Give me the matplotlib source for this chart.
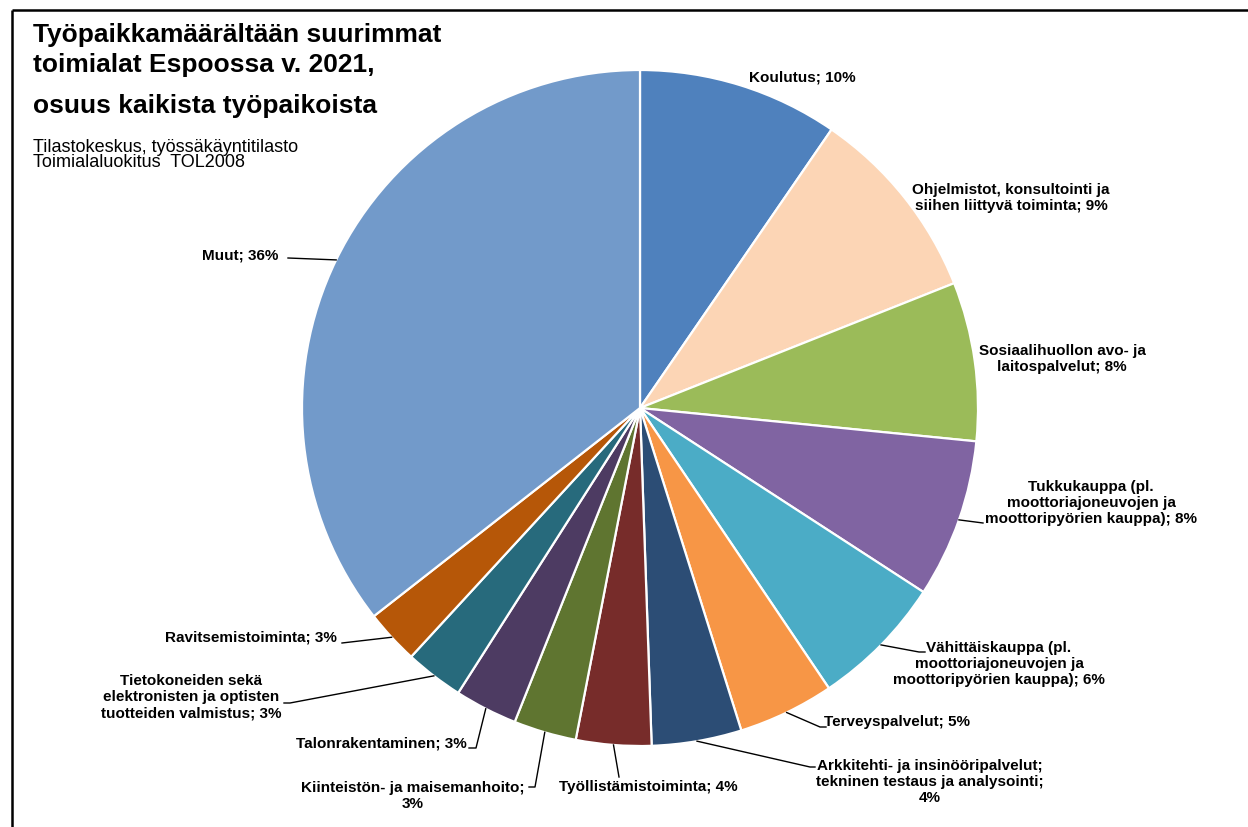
import matplotlib
matplotlib.use('Agg')
import numpy as np
import matplotlib.pyplot as plt

plt.rcParams['font.family'] = ['Liberation Sans', 'DejaVu Sans']

# toimialat, osuus työpaikoista (%)
categories = [
    'Koulutus',
    'Ohjelmistot, konsultointi ja\nsiihen liittyvä toiminta',
    'Sosiaalihuollon avo- ja\nlaitospalvelut',
    'Tukkukauppa (pl.\nmoottoriajoneuvojen ja\nmoottoripyörien kauppa)',
    'Vähittäiskauppa (pl.\nmoottoriajoneuvojen ja\nmoottoripyörien kauppa)',
    'Terveyspalvelut',
    'Arkkitehti- ja insinööripalvelut;\ntekninen testaus ja analysointi;\n',
    'Työllistämistoiminta',
    'Kiinteistön- ja maisemanhoito;\n',
    'Talonrakentaminen',
    'Tietokoneiden sekä\nelektronisten ja optisten\ntuotteiden valmistus',
    'Ravitsemistoiminta',
    'Muut',
]
shares = [9.6, 9.4, 7.6, 7.6, 6.4, 4.6, 4.3, 3.6, 3.0, 3.0, 2.8, 2.6, 35.6]
colors = ['#4F81BD', '#FCD5B5', '#9BBB59', '#8064A2', '#4BACC6', '#F79646',
          '#2C4D75', '#772C2A', '#5F7530', '#4D3B62', '#276A7C', '#B65708',
          '#729ACA']

# label layout in pixels (x, y from top)
label_pos = [(802, 77), (1011, 198), (1062, 359), (1091, 503), (999, 664),
             (897, 722), (930, 782), (648, 787), (413, 796), (381, 744),
             (191, 697), (251, 637), (240, 255)]
leader_pts = [None, None, None,
              [(983, 523)],
              [(919, 652), (925, 652)],
              [(820, 727), (826, 727)],
              [(810, 767), (815, 767)],
              [(619, 777)],
              [(535, 787), (529, 787)],
              [(476, 748), (469, 748)],
              [(290, 703), (284, 703)],
              [(342, 643)],
              [(288, 258)]]

W, H = 1248, 827
fig = plt.figure(figsize=(W / 100, H / 100), dpi=100)
ax = fig.add_axes([0, 0, 1, 1])

cx, cy, r = 640, H - 408, 338
wedges, _ = ax.pie(shares, colors=colors, startangle=90, counterclock=False,
                   center=(cx, cy), radius=r,
                   wedgeprops=dict(edgecolor='white', linewidth=1.6))
ax.set_xlim(0, W)
ax.set_ylim(0, H)
ax.set_aspect('equal')
ax.axis('off')

total = sum(shares)
for i, w in enumerate(wedges):
    pct = shares[i] / total * 100
    name = categories[i]
    if name.endswith('\n'):
        text = f'{name}{pct:.0f}%'
    else:
        text = f'{name}; {pct:.0f}%'
    lx, ly = label_pos[i]
    ax.text(lx, H - ly, text, ha='center', va='center', ma='center',
            fontsize=11, fontweight='bold', linespacing=1.2)
    if leader_pts[i] is not None:
        mid = np.deg2rad((w.theta1 + w.theta2) / 2)
        xs = [cx + r * np.cos(mid)] + [p[0] for p in leader_pts[i]]
        ys = [cy + r * np.sin(mid)] + [H - p[1] for p in leader_pts[i]]
        ax.plot(xs, ys, color='black', linewidth=1.0)

ax.text(33, H - 42, 'Työpaikkamäärältään suurimmat', fontsize=19,
        fontweight='bold', va='baseline')
ax.text(33, H - 72, 'toimialat Espoossa v. 2021,', fontsize=19,
        fontweight='bold', va='baseline')
ax.text(33, H - 113, 'osuus kaikista työpaikoista', fontsize=19,
        fontweight='bold', va='baseline')
ax.text(33, H - 152, 'Tilastokeskus, työssäkäyntitilasto', fontsize=13,
        va='baseline')
ax.text(33, H - 167, 'Toimialaluokitus  TOL2008', fontsize=13,
        va='baseline')

# chart frame
ax.plot([12, W], [H - 10, H - 10], color='black', linewidth=1.8,
        solid_capstyle='butt')
ax.plot([12, 12], [H - 10, 0], color='black', linewidth=1.8,
        solid_capstyle='butt')

fig.savefig('out.png', dpi=100)
